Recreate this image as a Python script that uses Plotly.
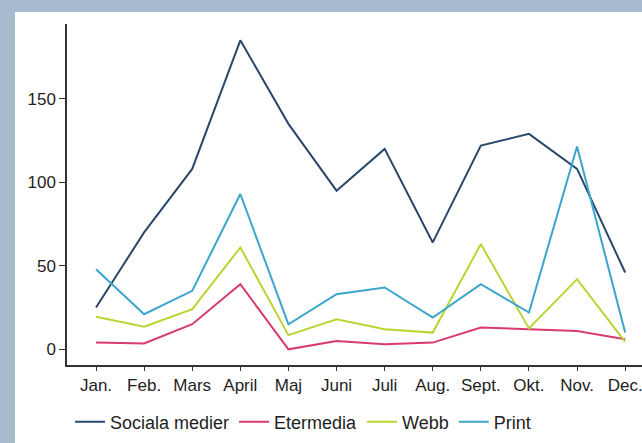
import plotly.graph_objects as go

months = ["Jan.", "Feb.", "Mars", "April", "Maj", "Juni", "Juli", "Aug.", "Sept.", "Okt.", "Nov.", "Dec."]
sociala_medier = [25, 70, 108, 185, 135, 95, 120, 64, 122, 129, 108, 46]
etermedia = [4, 3.5, 15, 39, 0, 5, 3, 4, 13, 12, 11, 6]
webb = [19.5, 13.5, 24, 61, 8.5, 18, 12, 10, 63, 12.5, 42, 4.5]
printmedia = [48, 21, 35, 93, 15, 33, 37, 19, 39, 22, 121.5, 10]

series = [
    ("Sociala medier", sociala_medier, "#29486c"),
    ("Etermedia", etermedia, "#d93a6f"),
    ("Webb", webb, "#b9d531"),
    ("Print", printmedia, "#3aa5cd"),
]

fig = go.Figure()
for name, vals, col in series:
    fig.add_trace(go.Scatter(x=months, y=vals, mode="lines", name=name,
                             line=dict(color=col, width=2)))

W, H = 642, 443
L, R, T, B = 67, 0, 24, 78
pw, ph = W - L - R, H - T - B

def px_x(p):
    return (p - L) / pw

def px_y(p):
    return (H - B - p) / ph

strip = "#a6bbcd"
fig.add_shape(type="rect", xref="paper", yref="paper", layer="below",
              x0=px_x(-5), x1=px_x(15), y0=px_y(450), y1=px_y(-5),
              fillcolor=strip, line_width=0)
fig.add_shape(type="rect", xref="paper", yref="paper", layer="below",
              x0=px_x(-5), x1=px_x(650), y0=px_y(12), y1=px_y(-5),
              fillcolor=strip, line_width=0)

fig.update_layout(
    width=W, height=H,
    margin=dict(l=L, r=R, t=T, b=B, pad=0),
    paper_bgcolor="white", plot_bgcolor="white",
    font=dict(family="Liberation Sans, Arial, sans-serif", color="#1e1e1e", size=17),
    showlegend=True,
    legend=dict(orientation="h", x=px_x(70), xanchor="left", y=px_y(422), yanchor="middle",
                font=dict(size=18, color="#1e1e1e"), bgcolor="rgba(0,0,0,0)",
                traceorder="normal"),
)
fig.update_xaxes(range=[-0.603, 11.35], showgrid=False, zeroline=False,
                 showline=True, linecolor="#333333", linewidth=1.5,
                 ticks="outside", ticklen=4, tickwidth=1.2, tickcolor="#333333",
                 tickfont=dict(size=17))
fig.update_yaxes(range=[-9.4, 194.8], showgrid=False, zeroline=False,
                 showline=True, linecolor="#333333", linewidth=1.5,
                 ticks="outside", ticklen=6, tickwidth=1.2, tickcolor="#333333",
                 tickvals=[0, 50, 100, 150], tickfont=dict(size=17))

fig.write_html("out.html", config={"displayModeBar": False},
               post_script="document.body.style.margin='0';document.body.style.padding='0';")
